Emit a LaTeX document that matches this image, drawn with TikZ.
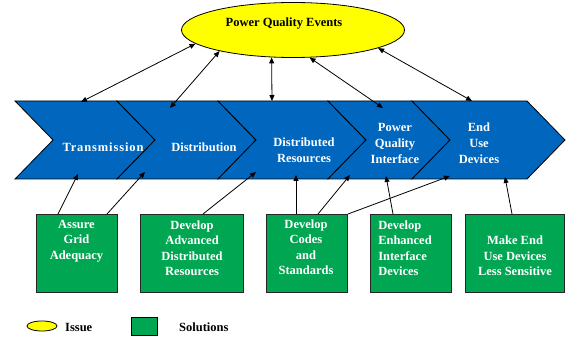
\documentclass[tikz,border=0pt]{standalone}
\usepackage{fontspec}
\setmainfont{Liberation Serif}
\usetikzlibrary{arrows.meta,shapes.geometric}
\definecolor{chblue}{RGB}{0,102,190}
\definecolor{solgreen}{RGB}{0,166,81}
\definecolor{issueyellow}{RGB}{255,255,0}
\newcommand\mychevron[2]{\path[chevstyle] (#1,101) -- (#2,101) -- (#2+38,140) -- (#2,179) -- (#1,179) -- (#1+38,140) -- cycle;}
\begin{document}
\begin{tikzpicture}[x=1pt,y=-1pt,
  chevstyle/.style={fill=chblue,draw=black,line width=0.8pt,line join=miter},
  chtext/.style={text=white,font=\fontsize{12.5}{16}\selectfont\bfseries,align=center,inner sep=0pt},
  boxtext/.style={text=white,font=\fontsize{12.5}{15.5}\selectfont\bfseries,align=center,inner sep=0pt},
  solbox/.style={fill=solgreen,draw=black!85,line width=1pt,anchor=north west,minimum height=78pt,inner sep=0pt},
  dbl/.style={{Triangle[length=6pt,width=5pt]}-{Triangle[length=6pt,width=5pt]},line width=0.8pt},
  sgl/.style={-{Triangle[length=6pt,width=5pt]},line width=0.8pt},
  lgtext/.style={font=\fontsize{12.5}{15}\selectfont\bfseries,inner sep=0pt}]
\useasboundingbox (0,0) rectangle (566,339);

% chevrons
\mychevron{15}{117}
\mychevron{117}{218}
\mychevron{218}{328}
\mychevron{328}{412}
\mychevron{412}{527}

\node[chtext] (tr) at (103,147) {\addfontfeature{LetterSpace=7}Transmission};
\node[chtext] (di) at (204,147) {Distribution};
\node[chtext] (dr) at (304,150.5) {Distributed\\Resources};
\node[chtext] (pq) at (395,143) {Power\\Quality\\Interface};
\node[chtext] (eu) at (479,143) {End\\Use\\Devices};

% issue ellipse
\node[ellipse,draw=black,line width=0.8pt,fill=issueyellow,minimum width=223pt,minimum height=55pt,inner sep=0pt] (pqe) at (293,30) {};
\node[font=\fontsize{12.5}{15}\selectfont\bfseries,inner sep=0pt] (pqet) at (284,24) {Power Quality Events};

% chevron anchor points
\coordinate (a1) at (81,102);
\coordinate (a2) at (170,108);
\coordinate (a3) at (272,101);
\coordinate (a4) at (383,108);
\coordinate (a5) at (472,101);
\coordinate (b1) at (78,174);
\coordinate (b2) at (145,172);
\coordinate (b3) at (256,172);
\coordinate (b4) at (296,175);
\coordinate (b5) at (350,175);
\coordinate (b6) at (450,176);
\coordinate (b7) at (386,176);
\coordinate (b8) at (505,177);

\draw[dbl] (pqe.188.5) -- (a1);
\draw[dbl] (pqe.196.1) -- (a2);
\draw[dbl] (pqe.232) -- (a3);
\draw[dbl] (pqe.301.3) -- (a4);
\draw[dbl] (pqe.348.3) -- (a5);

% solution boxes
\node[solbox,minimum width=81pt] (box1) at (36,214) {};
\node[solbox,minimum width=103pt] (box2) at (140,214) {};
\node[solbox,minimum width=81pt] (box3) at (266,214) {};
\node[solbox,minimum width=81pt] (box4) at (370,214) {};
\node[solbox,minimum width=99pt] (box5) at (465,214) {};

\node[boxtext] (t1) at (76.5,241) {Assure\\Grid\\Adequacy};
\node[boxtext] (t2) at (192,248) {Develop\\Advanced\\Distributed\\Resources};
\node[boxtext] (t3) at (306,247) {Develop\\Codes\\and\\Standards};
\node[boxtext,align=left] (t4) at (405,248) {Develop\\Enhanced\\Interface\\Devices};
\node[boxtext] (t5) at (515,256) {Make End\\Use Devices\\Less Sensitive};

\draw[sgl] ([xshift=22pt]box1.north west) -- (b1);
\draw[sgl] ([xshift=71pt]box1.north west) -- (b2);
\draw[sgl] ([xshift=63pt]box2.north west) -- (b3);
\draw[sgl] ([xshift=30pt]box3.north west) -- (b4);
\draw[sgl] ([xshift=52pt]box3.north west) -- (b5);
\draw[sgl] (box3.north east) -- (b6);
\draw[sgl] ([xshift=23pt]box4.north west) -- (b7);
\draw[sgl] ([xshift=47pt]box5.north west) -- (b8);

% legend
\node[ellipse,draw=black,line width=0.8pt,fill=issueyellow,minimum width=30pt,minimum height=10pt,inner sep=0pt] (lgis) at (42,326) {};
\node[lgtext,anchor=west] (lgist) at (65,327) {Issue};
\node[fill=solgreen,draw=black,line width=1pt,minimum width=26pt,minimum height=18pt,inner sep=0pt] (lgso) at (144,327) {};
\node[lgtext,anchor=west] (lgsot) at (179,327) {Solutions};
\end{tikzpicture}
\end{document}
